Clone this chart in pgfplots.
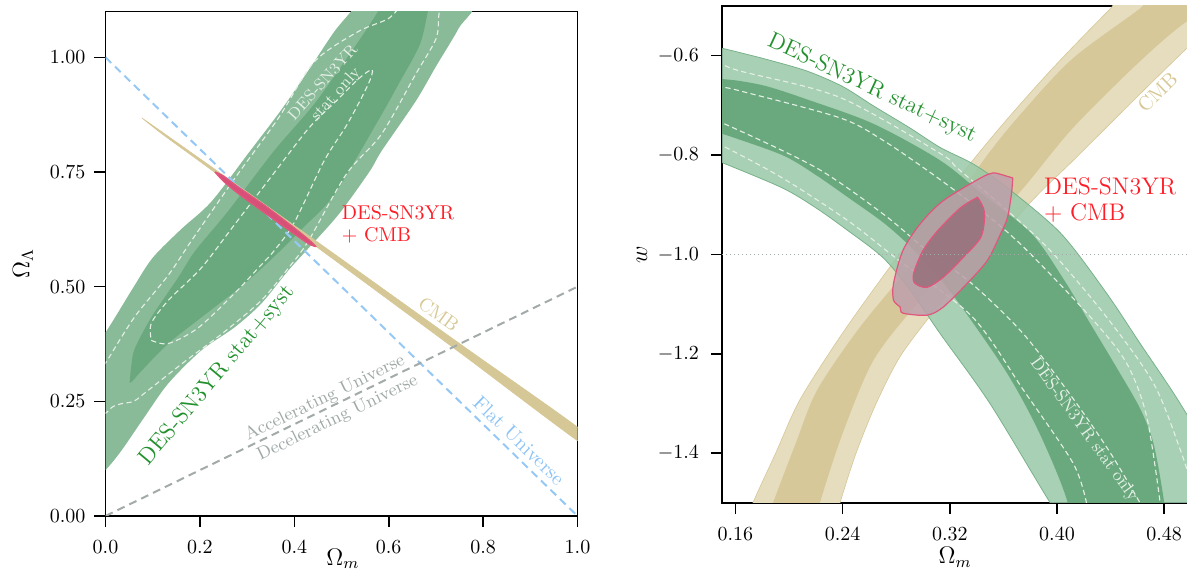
\documentclass[border=0pt]{standalone}
\usepackage{pgfplots}
\pgfplotsset{compat=1.18}
\definecolor{gouterL}{RGB}{138,187,153}
\definecolor{ginnerL}{RGB}{106,169,125}
\definecolor{gouterR}{RGB}{153,200,167}
\definecolor{ginnerR}{RGB}{95,163,116}
\definecolor{gedge}{RGB}{120,178,138}
\definecolor{cmbL}{RGB}{214,199,150}
\definecolor{cmbout}{RGB}{230,221,191}
\definecolor{cmbin}{RGB}{214,200,152}
\definecolor{pinkedge}{RGB}{226,85,125}
\definecolor{pinkfillL}{RGB}{214,80,120}
\definecolor{pinkout}{RGB}{190,160,171}
\definecolor{pinkin}{RGB}{150,112,122}
\definecolor{flatblue}{RGB}{150,200,245}
\definecolor{accgray}{RGB}{163,170,170}
\definecolor{txtgreen}{RGB}{34,145,45}
\definecolor{txtred}{RGB}{255,30,40}
\definecolor{txttan}{RGB}{215,200,150}
\definecolor{txtwhite}{RGB}{228,240,231}
\definecolor{txtgray}{RGB}{160,168,168}
\definecolor{txtblue}{RGB}{140,195,245}
\pgfplotsset{
  mystyle/.style={
    scale only axis,
    axis line style={line width=0.8pt},
    tick align=outside,
    xtick pos=left, ytick pos=left,
    major tick length=5.5pt,
    every tick/.style={line width=0.8pt, black},
    tick label style={font=\normalsize},
    label style={font=\large},
  },
  wdash/.style={color=txtwhite, line width=0.55pt, dash pattern=on 2.6pt off 1.7pt},
}
\begin{document}
\begin{tikzpicture}
% ---------------- left panel ----------------
\begin{axis}[mystyle,
  at={(52.75pt,28pt)}, anchor=south west,
  width=236pt, height=252.25pt,
  xmin=0, xmax=1, ymin=0, ymax=1.1,
  xtick={0,0.2,0.4,0.6,0.8,1.0},
  ytick={0,0.25,0.5,0.75,1.0},
  xticklabel style={/tikz/yshift=-3.5pt, /pgf/number format/.cd, fixed, fixed zerofill, precision=1},
  yticklabel style={/tikz/xshift=-1pt, /pgf/number format/.cd, fixed, fixed zerofill, precision=2},
  xlabel={$\Omega_m$},
  xlabel style={at={(axis description cs:0.503,-0.085)}, anchor=center},
  ylabel={$\Omega_\Lambda$},
  ylabel style={at={(axis description cs:-0.1748,0.5)}, anchor=center},
]
% outer 2-sigma stat+syst
\addplot[fill=gouterL, draw=none, smooth] coordinates {
(-0.05,0.05) (0,0.10) (0.034,0.143) (0.082,0.215) (0.133,0.289) (0.203,0.361) (0.273,0.411) (0.33,0.463) (0.387,0.535) (0.431,0.585) (0.495,0.659) (0.56,0.752) (0.585,0.796) (0.657,0.904) (0.70,0.98) (0.748,1.063) (0.77,1.12)
(0.53,1.12) (0.52,1.10) (0.484,1.055) (0.429,0.97) (0.372,0.885) (0.302,0.79) (0.224,0.685) (0.16,0.625) (0.10,0.563) (0.06,0.50) (0,0.40) (-0.05,0.33) (-0.05,0.05) };
% inner 1-sigma
\addplot[fill=ginnerL, draw=none, smooth] coordinates {
(0.051,0.29) (0.055,0.33) (0.062,0.365) (0.097,0.433) (0.154,0.52) (0.19,0.578) (0.26,0.665) (0.357,0.796) (0.442,0.898) (0.526,1.02) (0.577,1.10) (0.585,1.13)
(0.69,1.13) (0.683,1.10) (0.666,1.028) (0.62,0.94) (0.577,0.861) (0.484,0.70) (0.42,0.63) (0.37,0.578) (0.294,0.506) (0.203,0.433) (0.133,0.376) (0.075,0.315) (0.058,0.295) (0.051,0.29) };
% stat only dashed contours
\addplot[wdash, smooth] coordinates {
(0.63,1.12) (0.60,1.085) (0.535,1.056) (0.442,0.99) (0.366,0.867) (0.273,0.735) (0.182,0.60) (0.133,0.525) (0.061,0.433) (0,0.333) (-0.02,0.30) };
\addplot[wdash, smooth] coordinates {
(-0.02,0.215) (0,0.224) (0.015,0.238) (0.034,0.245) (0.06,0.250) (0.083,0.268) (0.167,0.336) (0.25,0.40) (0.33,0.47) (0.387,0.54) (0.43,0.60) (0.51,0.745) (0.585,0.833) (0.657,0.963) (0.70,1.04) (0.706,1.09) (0.71,1.12) };
\addplot[wdash, smooth] coordinates {
(0.097,0.383) (0.133,0.376) (0.196,0.41) (0.273,0.485) (0.323,0.54) (0.357,0.578) (0.40,0.64) (0.463,0.774) (0.512,0.854) (0.556,0.94) (0.565,0.973) (0.537,0.954) (0.488,0.904) (0.431,0.846) (0.349,0.737) (0.268,0.628) (0.203,0.541) (0.133,0.47) (0.097,0.42) (0.097,0.383) };
% CMB
\addplot[fill=cmbL, draw=cmbL, line width=0.3pt, smooth] coordinates {
(0.077,0.868) (0.12,0.837) (0.2,0.779) (0.35,0.670) (0.5,0.560) (0.75,0.376) (1.02,0.178)
(1.02,0.150) (0.75,0.357) (0.5,0.547) (0.35,0.660) (0.2,0.773) (0.12,0.833) (0.077,0.868) };
% flat & acceleration lines
\addplot[flatblue, line width=1pt, dash pattern=on 4pt off 2.6pt] coordinates {(0,1) (1,0)};
\addplot[accgray, line width=1pt, dash pattern=on 4pt off 2.6pt] coordinates {(0,0) (1,0.5)};
% SN + CMB
\addplot[fill=pinkfillL, draw=pinkedge, line width=0.7pt, smooth] coordinates {
(0.232,0.750) (0.25,0.741) (0.28,0.718) (0.34,0.675) (0.40,0.628) (0.43,0.603) (0.445,0.588)
(0.43,0.594) (0.40,0.615) (0.34,0.659) (0.28,0.704) (0.25,0.730) (0.232,0.750) };
% texts
\node[rotate=48, align=center, text=txtwhite, font=\fontsize{8}{8.5}\selectfont, inner sep=0pt] at (axis cs:0.475,0.932) {DES-SN3YR\\stat only};
\node[rotate=50, text=txtgreen, font=\fontsize{11.5}{13}\selectfont, inner sep=0pt] at (axis cs:0.237,0.307) {DES-SN3YR stat+syst};
\node[anchor=west, align=left, text=txtred, font=\fontsize{10}{11}\selectfont, inner sep=0pt] at (axis cs:0.50,0.637) {DES-SN3YR\\+ CMB};
\node[rotate=-36, text=txttan, font=\fontsize{9.5}{11}\selectfont, inner sep=0pt] at (axis cs:0.706,0.44) {CMB};
\node[rotate=26, text=txtgray, font=\fontsize{9}{10}\selectfont, inner sep=0pt] at (axis cs:0.465,0.257) {Accelerating Universe};
\node[rotate=26, text=txtgray, font=\fontsize{9}{10}\selectfont, inner sep=0pt] at (axis cs:0.492,0.213) {Decelerating Universe};
\node[rotate=-44, text=txtblue, font=\fontsize{10}{11}\selectfont, inner sep=0pt] at (axis cs:0.876,0.165) {Flat Universe};
\end{axis}
% ---------------- right panel ----------------
\begin{axis}[mystyle,
  at={(361pt,34.5pt)}, anchor=south west,
  width=234.5pt, height=248.5pt,
  xmin=0.15, xmax=0.5, ymin=-1.5, ymax=-0.5,
  xtick={0.16,0.24,0.32,0.40,0.48},
  ytick={-1.4,-1.2,-1.0,-0.8,-0.6},
  xticklabel style={/tikz/yshift=-3.5pt, /pgf/number format/.cd, fixed, fixed zerofill, precision=2},
  yticklabel style={/tikz/xshift=-2.5pt, /pgf/number format/.cd, fixed, fixed zerofill, precision=1},
  xlabel={$\Omega_m$},
  xlabel style={at={(axis description cs:0.497,-0.1087)}, anchor=center},
  ylabel={$w$},
  ylabel style={at={(axis description cs:-0.1706,0.5)}, anchor=center},
]
% CMB band
\addplot[fill=cmbout, draw=cmbL, line width=0.3pt, smooth] coordinates {
(0.165,-1.56) (0.173,-1.5) (0.19,-1.40) (0.208,-1.293) (0.238,-1.166) (0.268,-1.052) (0.30,-0.937) (0.337,-0.811) (0.363,-0.727) (0.39,-0.645) (0.412,-0.582) (0.44,-0.505) (0.45,-0.48)
(0.53,-0.44) (0.52,-0.53) (0.497,-0.585) (0.462,-0.677) (0.412,-0.811) (0.387,-0.876) (0.363,-0.946) (0.335,-1.03) (0.308,-1.115) (0.283,-1.205) (0.265,-1.30) (0.25,-1.40) (0.238,-1.5) (0.232,-1.56) (0.165,-1.56) };
\addplot[fill=cmbin, draw=none, smooth] coordinates {
(0.18,-1.56) (0.188,-1.5) (0.205,-1.38) (0.221,-1.273) (0.253,-1.146) (0.30,-0.99) (0.345,-0.811) (0.375,-0.711) (0.412,-0.605) (0.462,-0.505) (0.47,-0.48)
(0.53,-0.48) (0.52,-0.51) (0.497,-0.531) (0.462,-0.611) (0.412,-0.745) (0.375,-0.866) (0.34,-0.97) (0.296,-1.098) (0.263,-1.213) (0.24,-1.36) (0.223,-1.5) (0.218,-1.56) (0.18,-1.56) };
% outer green band
\addplot[fill=gouterR, fill opacity=0.85, draw=gedge, line width=0.4pt, smooth] coordinates {
(0.14,-0.578) (0.15,-0.585) (0.1637,-0.594) (0.184,-0.608) (0.2135,-0.631) (0.24,-0.662) (0.263,-0.701) (0.29,-0.745) (0.313,-0.785) (0.3375,-0.818) (0.363,-0.866) (0.403,-0.958) (0.437,-1.078) (0.462,-1.179) (0.487,-1.279) (0.51,-1.38) (0.55,-1.56)
(0.42,-1.60) (0.395,-1.5) (0.35,-1.30) (0.313,-1.16) (0.29,-1.07) (0.27,-1.006) (0.244,-0.952) (0.22,-0.906) (0.195,-0.866) (0.15,-0.815) (0.14,-0.805) };
% inner green band
\addplot[fill=ginnerR, fill opacity=0.85, draw=none, smooth] coordinates {
(0.14,-0.645) (0.15,-0.647) (0.1637,-0.651) (0.184,-0.662) (0.2135,-0.688) (0.263,-0.737) (0.313,-0.811) (0.345,-0.88) (0.381,-0.958) (0.405,-1.05) (0.425,-1.14) (0.445,-1.23) (0.462,-1.31) (0.472,-1.38) (0.48,-1.5) (0.483,-1.6)
(0.41,-1.6) (0.408,-1.5) (0.387,-1.36) (0.363,-1.24) (0.33,-1.11) (0.31,-1.04) (0.289,-0.98) (0.27,-0.935) (0.244,-0.885) (0.22,-0.84) (0.195,-0.80) (0.15,-0.757) (0.14,-0.75) };
% stat only dashed
\addplot[wdash, smooth] coordinates {(0.14,-0.61) (0.15,-0.617) (0.1637,-0.631) (0.238,-0.684) (0.313,-0.797) (0.3255,-0.826) (0.36,-0.905) (0.395,-0.992) (0.437,-1.126) (0.472,-1.259) (0.492,-1.393) (0.505,-1.5)};
\addplot[wdash, smooth] coordinates {(0.14,-0.657) (0.15,-0.663) (0.1637,-0.671) (0.238,-0.725) (0.27,-0.77) (0.308,-0.84) (0.345,-0.915) (0.375,-0.985) (0.425,-1.126) (0.452,-1.219) (0.467,-1.327) (0.477,-1.5)};
\addplot[wdash, smooth] coordinates {(0.14,-0.73) (0.15,-0.735) (0.22,-0.825) (0.27,-0.918) (0.303,-0.992) (0.337,-1.06) (0.375,-1.16) (0.412,-1.29) (0.44,-1.40) (0.462,-1.5)};
\addplot[wdash, smooth] coordinates {(0.14,-0.776) (0.15,-0.781) (0.195,-0.846) (0.244,-0.932) (0.282,-1.012) (0.337,-1.126) (0.375,-1.273) (0.412,-1.42) (0.422,-1.5)};
% SN + CMB
\addplot[fill=pinkout, fill opacity=0.85, draw=pinkedge, line width=0.6pt, smooth] coordinates {
(0.367,-0.846) (0.362,-0.842) (0.357,-0.838) (0.352,-0.836) (0.343,-0.846) (0.315,-0.892) (0.298,-0.938) (0.285,-0.992) (0.278,-1.058) (0.278,-1.092) (0.283,-1.106) (0.285,-1.118) (0.303,-1.122) (0.315,-1.106) (0.333,-1.058) (0.348,-1.012) (0.358,-0.958) (0.363,-0.926) (0.366,-0.878) (0.367,-0.846) };
\addplot[fill=pinkin, fill opacity=0.85, draw=pinkedge, line width=0.6pt, smooth] coordinates {
(0.34,-0.886) (0.328,-0.906) (0.311,-0.952) (0.30,-0.992) (0.293,-1.038) (0.294,-1.058) (0.303,-1.066) (0.315,-1.046) (0.33,-1.006) (0.343,-0.966) (0.346,-0.926) (0.345,-0.906) (0.341,-0.886) (0.34,-0.886) };
% w = -1
\addplot[accgray, line width=0.5pt, dash pattern=on 0.6pt off 1.4pt] coordinates {(0.15,-1) (0.5,-1)};
% texts
\node[rotate=-25, text=txtgreen, font=\fontsize{11.5}{13}\selectfont, inner sep=0pt] at (axis cs:0.262,-0.666) {DES-SN3YR stat+syst};
\node[anchor=west, align=left, text=txtred, font=\fontsize{12}{13}\selectfont, inner sep=0pt] at (axis cs:0.39,-0.891) {DES-SN3YR\\+ CMB};
\node[rotate=44, text=txttan, font=\fontsize{10}{11}\selectfont, inner sep=0pt] at (axis cs:0.475,-0.673) {CMB};
\node[rotate=-54, text=txtwhite, font=\fontsize{8.5}{9}\selectfont, inner sep=0pt] at (axis cs:0.42,-1.353) {DES-SN3YR stat only};
\end{axis}
\pgfresetboundingbox
\path[use as bounding box] (0,0) rectangle (593.5pt,286pt);
\end{tikzpicture}
\end{document}
